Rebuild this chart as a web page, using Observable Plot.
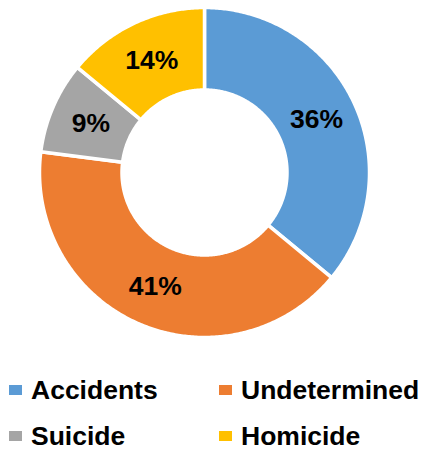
<!DOCTYPE html>
<html><head><meta charset="utf-8">
<script src="https://cdn.jsdelivr.net/npm/d3@7"></script>
<script src="https://cdn.jsdelivr.net/npm/@observablehq/plot@0.6"></script>
<style>
body{margin:0;background:#fff;font-family:Arial,"Liberation Sans",sans-serif;}
#legend{display:grid;grid-template-columns:210px 206px;padding-left:9px;font-size:26.5px;font-weight:bold;line-height:46px;color:#000;}
.sw{display:inline-block;width:13px;height:10px;margin-right:9px;vertical-align:4px;}
</style></head><body>
<div id="chart"></div><div id="legend"></div>
<script>
const categories = ["Accidents", "Undetermined", "Suicide", "Homicide"];
const values = [36, 41, 9, 14];
const labels = ["36%", "41%", "9%", "14%"];
const colors = ["#5B9BD5", "#ED7D31", "#A5A5A5", "#FFC000"];

const total = d3.sum(values);
const INNER = 0.5;
let cum = 0;
const slices = categories.map((c, i) => {
  const a0 = cum / total * 2 * Math.PI;
  cum += values[i];
  const a1 = cum / total * 2 * Math.PI;
  return {cat: c, a0, a1, mid: (a0 + a1) / 2, label: labels[i]};
});
const pts = [];
for (const s of slices) {
  const n = Math.max(8, Math.ceil((s.a1 - s.a0) / 0.01));
  for (let k = 0; k <= n; k++) {
    const a = s.a0 + (s.a1 - s.a0) * k / n;
    pts.push({cat: s.cat, x: Math.sin(a), y: Math.cos(a)});
  }
  for (let k = n; k >= 0; k--) {
    const a = s.a0 + (s.a1 - s.a0) * k / n;
    pts.push({cat: s.cat, x: INNER * Math.sin(a), y: INNER * Math.cos(a)});
  }
}
const font = "Arial, 'Liberation Sans', sans-serif";
const plot = Plot.plot({
  width: 425, height: 367, margin: 0,
  x: {domain: [-1, 1], range: [39, 369], axis: null},
  y: {domain: [-1, 1], range: [337, 7], axis: null},
  color: {domain: categories, range: colors},
  style: {background: "transparent", fontFamily: font},
  marks: [
    Plot.line(pts, {x: "x", y: "y", z: "cat", fill: "cat", stroke: "white", strokeWidth: 3.5, curve: "linear-closed"}),
    Plot.text(slices, {
      x: d => 0.75 * Math.sin(d.mid), y: d => 0.75 * Math.cos(d.mid),
      text: "label", fontSize: 26.5, fontWeight: "bold", fill: "black", fontFamily: font,
      textAnchor: "middle", lineAnchor: "middle"
    })
  ]
});
document.getElementById("chart").appendChild(plot);
const legend = document.getElementById("legend");
categories.forEach((c, i) => {
  const item = document.createElement("div");
  const sw = document.createElement("span");
  sw.className = "sw";
  sw.style.background = colors[i];
  item.appendChild(sw);
  item.appendChild(document.createTextNode(c));
  legend.appendChild(item);
});
</script>
</body></html>
